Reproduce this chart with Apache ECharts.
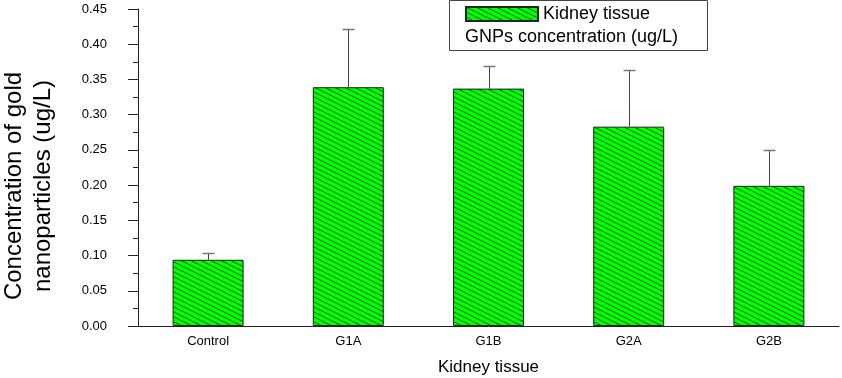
<!DOCTYPE html>
<html>
<head>
<meta charset="utf-8">
<script src="https://cdn.jsdelivr.net/npm/echarts@6/dist/echarts.min.js"></script>
<style>
  html, body { margin: 0; padding: 0; background: #fff; }
  #chart { width: 842px; height: 378px; }
</style>
</head>
<body>
<div id="chart"></div>
<script>
  // data
  var categories = ['Control', 'G1A', 'G1B', 'G2A', 'G2B'];
  var means = [0.094, 0.339, 0.337, 0.283, 0.199];
  var errors = [0.010, 0.083, 0.032, 0.080, 0.051];
  var seriesName = 'Kidney tissue';

  var FONT = '"Liberation Sans", Arial, sans-serif';

  // diagonal hatch fill
  function hatch() {
    var c = document.createElement('canvas');
    c.width = 10; c.height = 5;
    var ctx = c.getContext('2d');
    ctx.fillStyle = '#00ff00';
    ctx.fillRect(0, 0, 10, 5);
    ctx.strokeStyle = '#1d4a1d';
    ctx.lineWidth = 0.9;
    for (var k = -1; k <= 1; k++) {
      ctx.beginPath();
      ctx.moveTo(-10, -5 + k * 5);
      ctx.lineTo(20, 10 + k * 5);
      ctx.stroke();
    }
    return c;
  }
  var hatchFill = { image: hatch(), repeat: 'repeat' };

  var errData = means.map(function (m, i) { return [i, m, errors[i]]; });

  var chart = echarts.init(document.getElementById('chart'));
  chart.setOption({
    animation: false,
    textStyle: { fontFamily: FONT },
    grid: { left: 138, right: 3, top: 9, bottom: 52, outerBoundsMode: 'none' },
    legend: {
      data: [seriesName],
      left: 465, top: 5, padding: 0,
      itemWidth: 72, itemHeight: 14,
      icon: 'rect',
      textStyle: { fontSize: 18, color: '#000', fontFamily: FONT }
    },
    graphic: [
      {
        type: 'rect', z: 0,
        shape: { x: 449.5, y: 0.5, width: 258, height: 50 },
        style: { fill: '#fff', stroke: '#444', lineWidth: 1 }
      },
      {
        type: 'text', z: 5, x: 465, y: 37,
        style: { text: 'GNPs concentration (ug/L)', fill: '#000',
                 font: '18px ' + FONT, verticalAlign: 'middle' }
      },
      {
        type: 'text', x: 28.5, y: 186, rotation: Math.PI / 2,
        style: { text: 'Concentration of gold\nnanoparticles (ug/L)',
                 font: '24px ' + FONT, fill: '#000', align: 'center',
                 verticalAlign: 'middle', lineHeight: 29 }
      }
    ],
    xAxis: [
      {
        type: 'category',
        data: categories,
        name: 'Kidney tissue',
        nameLocation: 'middle',
        nameGap: 33,
        nameTextStyle: { fontSize: 17, color: '#000', fontFamily: FONT },
        axisLine: { lineStyle: { color: '#222', width: 1 } },
        axisTick: { alignWithLabel: true, length: 7, lineStyle: { color: '#222' } },
        axisLabel: { fontSize: 13, color: '#000', margin: 9 }
      },
      {
        type: 'category',
        data: categories,
        position: 'bottom',
        axisLine: { show: false },
        axisTick: { length: 4, lineStyle: { color: '#222' } },
        axisLabel: { show: false }
      }
    ],
    yAxis: {
      type: 'value',
      min: 0, max: 0.45, interval: 0.05,
      axisLine: { show: true, lineStyle: { color: '#222', width: 1 } },
      axisTick: { show: true, length: 10, lineStyle: { color: '#222' } },
      minorTick: { show: true, splitNumber: 2, length: 5, lineStyle: { color: '#222' } },
      splitLine: { show: false },
      axisLabel: {
        fontSize: 13, color: '#000', margin: 31,
        formatter: function (v) { return v.toFixed(2); }
      }
    },
    series: [
      {
        name: seriesName,
        type: 'bar',
        barWidth: 71,
        data: means,
        itemStyle: { color: hatchFill, borderColor: '#222', borderWidth: 1 }
      },
      {
        type: 'custom',
        data: errData,
        z: 3,
        renderItem: function (params, api) {
          var i = api.value(0), m = api.value(1), e = api.value(2);
          var b = api.coord([i, m]);
          var t = api.coord([i, m + e]);
          var x = Math.round(b[0]) + 0.5;
          var yt = Math.round(t[1]) + 0.5;
          return {
            type: 'group',
            children: [
              { type: 'line', shape: { x1: x, y1: b[1], x2: x, y2: yt },
                style: { stroke: '#444', lineWidth: 1 } },
              { type: 'line', shape: { x1: x - 6, y1: yt, x2: x + 6, y2: yt },
                style: { stroke: '#777', lineWidth: 1.5 } }
            ]
          };
        }
      }
    ]
  });
</script>
</body>
</html>
